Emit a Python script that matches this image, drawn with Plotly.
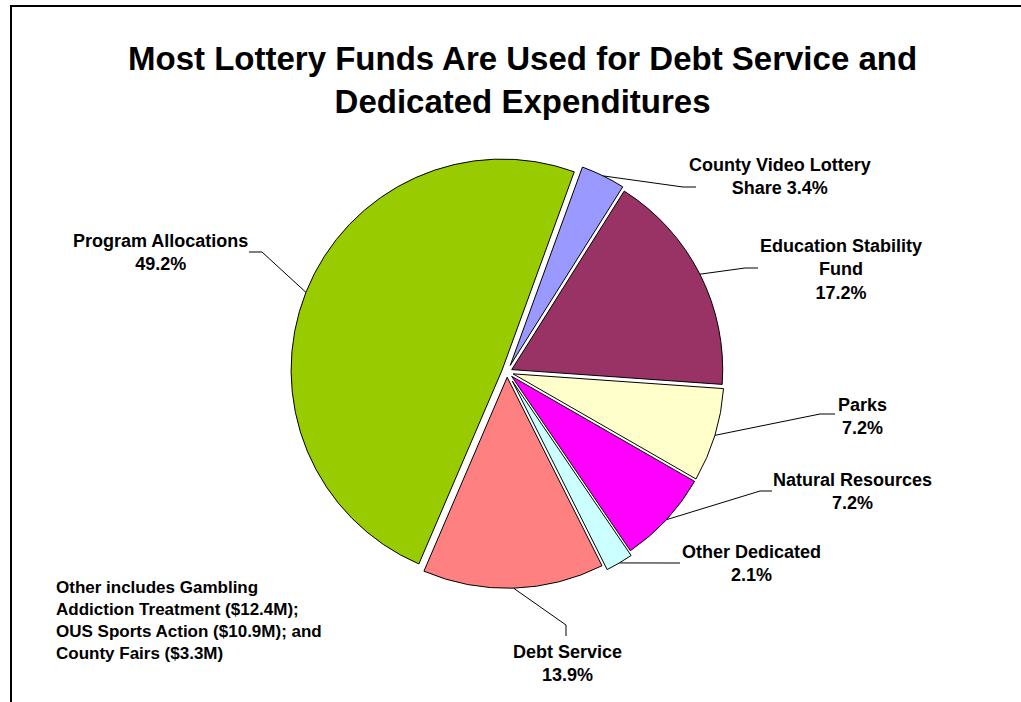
import math
import plotly.graph_objects as go

# Lottery fund uses (share of total, %)
categories = [
    "County Video Lottery Share",
    "Education Stability Fund",
    "Parks",
    "Natural Resources",
    "Other Dedicated",
    "Debt Service",
    "Program Allocations",
]
shares = [3.4, 17.2, 7.2, 7.2, 2.1, 13.9, 49.2]
label_names = [
    "County Video Lottery<br>Share ",
    "Education Stability<br>Fund<br>",
    "Parks<br>",
    "Natural Resources<br>",
    "Other Dedicated<br>",
    "Debt Service<br>",
    "Program Allocations<br>",
]
colors = ["#9999FF", "#993366", "#FFFFCC", "#FF00FF", "#CCFFFF", "#FF8080", "#99CC00"]
pulls = [0.035, 0.025, 0.03, 0.03, 0.05, 0.025, 0.025]

title_text = "Most Lottery Funds Are Used for Debt Service and<br>Dedicated Expenditures"
note_text = ("Other includes Gambling<br>Addiction Treatment ($12.4M);<br>"
             "OUS Sports Action ($10.9M); and<br>County Fairs ($3.3M)")

# ---- layout geometry (pixels) ----
W, H = 1021, 702
PIE_CX, PIE_CY, PIE_R = 507, 372, 211
ROTATION = 20
FONT = "Liberation Sans, Arial, sans-serif"

# label block centre, leader elbow and leader end for each slice
label_pos = [(780, 176), (841, 269), (862, 416), (852, 492), (751, 563), (567, 663), (160, 252)]
leader_elbow = [(683, 187), (745, 268), (820, 414), (760, 491), (670, 563), (566, 625), (262, 252)]
leader_end = [(696, 187), (758, 268), (835, 414), (772, 491), (680, 563), (566, 636), (249, 252)]


def px(x):
    return x / W


def py(y):
    return 1 - y / H


max_pull = max(pulls)
half = PIE_R * (1 + max_pull)
domain_x = [px(PIE_CX - half), px(PIE_CX + half)]
domain_y = [py(PIE_CY + half), py(PIE_CY - half)]

fig = go.Figure(
    go.Pie(
        labels=categories,
        values=shares,
        sort=False,
        direction="clockwise",
        rotation=ROTATION,
        pull=pulls,
        textinfo="none",
        hoverinfo="label+percent",
        showlegend=False,
        marker=dict(colors=colors, line=dict(color="black", width=1)),
        domain=dict(x=domain_x, y=domain_y),
    )
)

shapes = []
annotations = []

# leader lines start on each slice's outer edge at its middle angle
total = sum(shares)
acc = 0.0
for i, v in enumerate(shares):
    mid = math.radians(ROTATION + 360 * (acc + v / 2) / total)
    acc += v
    rr = PIE_R * (1 + pulls[i])
    ax = PIE_CX + rr * math.sin(mid)
    ay = PIE_CY - rr * math.cos(mid)
    ex, ey = leader_elbow[i]
    fx, fy = leader_end[i]
    shapes.append(dict(
        type="path", xref="paper", yref="paper",
        path=f"M {px(ax)} {py(ay)} L {px(ex)} {py(ey)} L {px(fx)} {py(fy)}",
        line=dict(color="black", width=1),
    ))
    lx, ly = label_pos[i]
    annotations.append(dict(
        x=px(lx), y=py(ly), xref="paper", yref="paper",
        text=f"{label_names[i]}{v:.1f}%",
        showarrow=False, xanchor="center", yanchor="middle", align="center",
        font=dict(family=FONT, size=18, color="black", weight="bold"),
    ))

# chart frame
shapes.append(dict(
    type="rect", xref="paper", yref="paper",
    x0=px(11), x1=1.05, y0=-0.05, y1=py(6),
    line=dict(color="black", width=2), fillcolor="rgba(0,0,0,0)",
))

annotations.append(dict(
    x=px(522), y=py(80), xref="paper", yref="paper",
    text=title_text, showarrow=False, xanchor="center", yanchor="middle",
    align="center", font=dict(family=FONT, size=33, color="black", weight="bold"),
))
annotations.append(dict(
    x=px(54), y=py(620), xref="paper", yref="paper",
    text=note_text, showarrow=False, xanchor="left", yanchor="middle",
    align="left", font=dict(family=FONT, size=17, color="black", weight="bold"),
))

fig.update_layout(
    width=W, height=H,
    margin=dict(l=0, r=0, t=0, b=0),
    paper_bgcolor="white", plot_bgcolor="white",
    shapes=shapes, annotations=annotations,
)

fig.write_html("out.html")
